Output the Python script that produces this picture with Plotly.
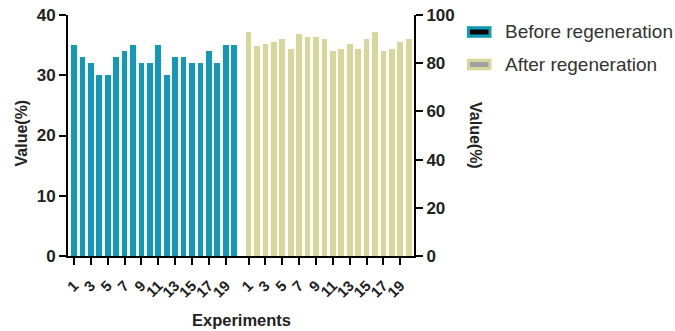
import plotly.graph_objects as go

experiments = list(range(1, 21))
before_regen = [35, 33, 32, 30, 30, 33, 34, 35, 32, 32, 35, 30, 33, 33, 32, 32, 34, 32, 35, 35]
after_regen = [93, 87, 88, 89, 90, 86, 92, 91, 91, 90, 85, 86, 88, 86, 90, 93, 85, 86, 89, 90]
tick_labels = [str(e) for e in experiments if e % 2 == 1]
series_names = ["Before regeneration", "After regeneration"]

TEAL = "#1199b5"
GOLD = "#d7d79b"
W, H = 675, 331
# plot area in screen pixels
L, R, T, B = 68, 414, 15, 256
GAP = 20.7  # offset of second group on x

pos_before = [e for e in experiments]
pos_after = [e + GAP for e in experiments]
tickvals = [p for e, p in zip(experiments, pos_before) if e % 2 == 1] + \
           [p for e, p in zip(experiments, pos_after) if e % 2 == 1]
ticktext = tick_labels + tick_labels

def px(x):
    return (x - L) / (R - L)

def py(y):
    return (B - y) / (B - T)

FONT = "Arial, Liberation Sans, Helvetica, sans-serif"
DARK = "#222"

fig = go.Figure()
fig.add_trace(go.Bar(x=pos_before, y=before_regen, width=0.68, marker=dict(color=TEAL, line=dict(width=0)),
                     name=series_names[0], showlegend=False, yaxis="y"))
fig.add_trace(go.Bar(x=pos_after, y=after_regen, width=0.68, marker=dict(color=GOLD, line=dict(width=0)),
                     name=series_names[1], showlegend=False, yaxis="y2"))

axis_common = dict(showgrid=False, zeroline=False, showline=True, linecolor="black", linewidth=2,
                   ticks="outside", ticklen=7, tickwidth=2, tickcolor="black", automargin=False,
                   ticklabeloverflow="allow")

fig.update_layout(
    width=W, height=H,
    margin=dict(l=L, r=W - R, t=T, b=H - B, autoexpand=False),
    paper_bgcolor="white", plot_bgcolor="white",
    font=dict(family=FONT, color=DARK),
    xaxis=dict(range=[0.29, 41.33], tickvals=tickvals, ticktext=ticktext, tickangle=-45,
               ticklabelstandoff=6,
               tickfont=dict(size=15, family=FONT, color=DARK, weight="bold"), **axis_common),
    yaxis=dict(range=[0, 40], tickvals=[0, 10, 20, 30, 40],
               tickfont=dict(size=17, family=FONT, color=DARK, weight="bold"), **axis_common),
    yaxis2=dict(range=[0, 100], tickvals=[0, 20, 40, 60, 80, 100], overlaying="y", side="right",
                tickfont=dict(size=17, family=FONT, color=DARK, weight="bold"), **axis_common),
    bargap=0,
)

# axis titles
fig.add_annotation(text="<b>Value(%)</b>", x=px(20.5), y=py(133), xref="paper", yref="paper",
                   xanchor="center", yanchor="middle",
                   textangle=-90, showarrow=False, font=dict(size=16, family=FONT, color=DARK))
fig.add_annotation(text="<b>Value(%)</b>", x=px(476), y=py(135), xref="paper", yref="paper",
                   xanchor="center", yanchor="middle",
                   textangle=90, showarrow=False, font=dict(size=16, family=FONT, color=DARK))
fig.add_annotation(text="<b>Experiments</b>", x=px(241), y=py(320), xref="paper", yref="paper",
                   xanchor="center", yanchor="middle",
                   showarrow=False, font=dict(size=16.5, family=FONT, color=DARK))

# legend
legend_items = [(series_names[0], TEAL, "black", 32), (series_names[1], GOLD, "#a0a0a0", 64.5)]
for name, outer, inner, cy in legend_items:
    fig.add_shape(type="rect", xref="paper", yref="paper", x0=px(467), x1=px(491.5), y0=py(cy - 5.8), y1=py(cy + 5.8),
                  fillcolor=outer, line=dict(width=0))
    fig.add_shape(type="rect", xref="paper", yref="paper", x0=px(470), x1=px(488.5), y0=py(cy - 2.5), y1=py(cy + 2.5),
                  fillcolor=inner, line=dict(width=0))
    fig.add_annotation(text=name, x=px(503), y=py(cy), xref="paper", yref="paper", xanchor="left",
                       yanchor="middle", showarrow=False, font=dict(size=19, family=FONT, color="#333"))

fig.write_html("out.html", config={"displayModeBar": False},
               post_script="document.body.style.margin='0';document.body.style.overflow='hidden';")
